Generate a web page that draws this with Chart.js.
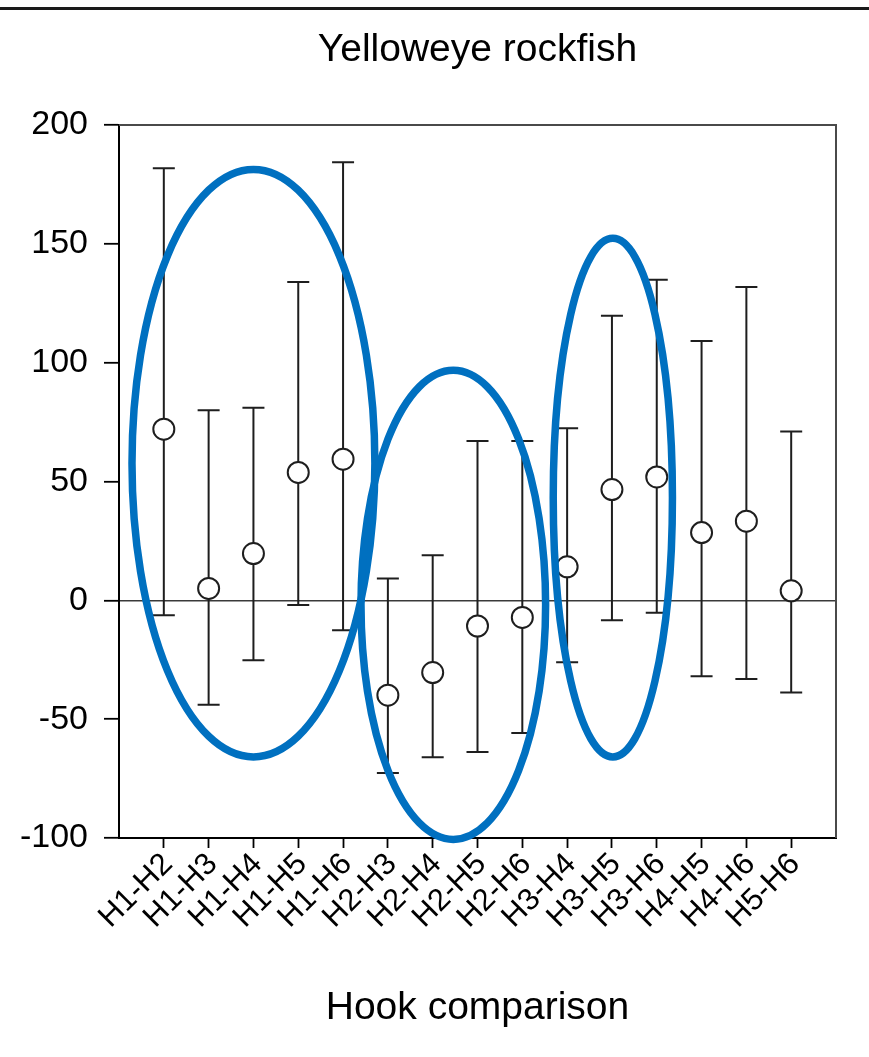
<!DOCTYPE html>
<html>
<head>
<meta charset="utf-8">
<script src="https://cdn.jsdelivr.net/npm/chart.js@4/dist/chart.umd.min.js"></script>
<style>
  html, body { margin: 0; padding: 0; background: #fff; }
  #wrap { position: relative; width: 869px; height: 1057px; }
  #topline { position: absolute; left: 0; top: 7px; width: 869px; height: 3px; background: #1a1a1a; }
  canvas { position: absolute; left: 0; top: 0; }
</style>
</head>
<body>
<div id="wrap">
  <canvas id="c" width="869" height="1057"></canvas>
  <div id="topline"></div>
</div>
<script>
// ---- Data ----
const categories = ['H1-H2','H1-H3','H1-H4','H1-H5','H1-H6','H2-H3','H2-H4','H2-H5','H2-H6','H3-H4','H3-H5','H3-H6','H4-H5','H4-H6','H5-H6'];
const meanValues  = [72.0, 5.0, 19.7, 53.8, 59.4, -39.9, -30.4, -10.8, -7.2, 14.1, 46.6, 51.9, 28.5, 33.3, 4.0];
const upperValues = [181.8, 80.0, 81.0, 133.9, 184.3, 9.2, 19.0, 67.0, 67.0, 72.4, 119.7, 134.9, 109.1, 131.8, 71.0];
const lowerValues = [-6.3, -43.9, -25.2, -2.0, -12.6, -72.6, -66.0, -63.8, -55.8, -26.1, -8.4, -5.2, -31.9, -33.1, -38.8];
const yTickValues = [-100, -50, 0, 50, 100, 150, 200];

// Highlight ellipses (data units: category position, value)
const ellipseCenterX = [3.0, 7.46, 11.02];
const ellipseCenterY = [57.7, -1.9, 43.2];
const ellipseRadiusX = [2.71, 2.06, 1.33];
const ellipseRadiusY = [123.6, 98.7, 109.1];

const FONT = "'Liberation Sans', Arial, Helvetica, sans-serif";

const points = categories.map((c, i) => ({ x: i + 1, y: meanValues[i] }));

const errorBarPlugin = {
  id: 'errorBars',
  beforeDatasetsDraw(chart) {
    const { ctx, scales: { x, y } } = chart;
    ctx.save();
    ctx.strokeStyle = '#1e1e1e';
    ctx.lineWidth = 2;
    const cap = 11;
    categories.forEach((c, i) => {
      const px = x.getPixelForValue(i + 1);
      const pu = y.getPixelForValue(upperValues[i]);
      const pl = y.getPixelForValue(lowerValues[i]);
      ctx.beginPath();
      ctx.moveTo(px, pu); ctx.lineTo(px, pl);
      ctx.moveTo(px - cap, pu); ctx.lineTo(px + cap, pu);
      ctx.moveTo(px - cap, pl); ctx.lineTo(px + cap, pl);
      ctx.stroke();
    });
    ctx.restore();
  }
};

const framePlugin = {
  id: 'frame',
  beforeDatasetsDraw(chart) {
    const { ctx, chartArea: a } = chart;
    ctx.save();
    ctx.strokeStyle = '#4a4a4a';
    ctx.lineWidth = 2;
    ctx.beginPath();
    ctx.moveTo(a.left, a.top); ctx.lineTo(a.right, a.top); ctx.lineTo(a.right, a.bottom);
    ctx.stroke();
    ctx.restore();
  }
};

const ellipsePlugin = {
  id: 'ellipses',
  afterDatasetsDraw(chart) {
    const { ctx, scales: { x, y } } = chart;
    ctx.save();
    ctx.strokeStyle = '#0070C0';
    ctx.lineWidth = 7.5;
    ellipseCenterX.forEach((cx, i) => {
      const pcx = x.getPixelForValue(cx);
      const pcy = y.getPixelForValue(ellipseCenterY[i]);
      const rx = Math.abs(x.getPixelForValue(cx + ellipseRadiusX[i]) - pcx);
      const ry = Math.abs(y.getPixelForValue(ellipseCenterY[i] + ellipseRadiusY[i]) - pcy);
      ctx.beginPath();
      ctx.ellipse(pcx, pcy, rx, ry, 0, 0, Math.PI * 2);
      ctx.stroke();
    });
    ctx.restore();
  }
};

new Chart(document.getElementById('c'), {
  type: 'scatter',
  data: {
    datasets: [{
      data: points,
      pointRadius: 10.5,
      pointHoverRadius: 10.5,
      pointBorderWidth: 2,
      pointBorderColor: '#1e1e1e',
      pointBackgroundColor: '#ffffff',
      showLine: false
    }]
  },
  options: {
    responsive: false,
    devicePixelRatio: 1,
    animation: false,
    layout: { padding: { left: 0, right: 33, top: 0, bottom: 0 } },
    plugins: {
      legend: { display: false },
      tooltip: { enabled: false },
      title: {
        display: true,
        fullSize: false,
        text: 'Yelloweye rockfish',
        color: '#000',
        font: { family: FONT, size: 39, weight: 'normal' },
        padding: { top: 27, bottom: 51.2 }
      }
    },
    scales: {
      x: {
        type: 'linear',
        min: 0,
        max: categories.length + 1,
        afterBuildTicks(scale) {
          scale.ticks = categories.map((c, i) => ({ value: i + 1 }));
        },
        afterFit(scale) { scale.height = 219; },
        ticks: {
          autoSkip: false,
          maxRotation: 45,
          minRotation: 45,
          padding: -2,
          labelOffset: 4,
          color: '#000',
          font: { family: FONT, size: 31 },
          callback: (v) => categories[v - 1] ?? ''
        },
        grid: { drawOnChartArea: false, tickLength: 10, tickColor: '#000', tickWidth: 1.8 },
        border: { color: '#000', width: 2 },
        title: {
          display: true,
          text: 'Hook comparison',
          color: '#000',
          font: { family: FONT, size: 39 },
          padding: { top: 0, bottom: 25 }
        }
      },
      y: {
        min: -100,
        max: 200,
        afterBuildTicks(scale) {
          scale.ticks = yTickValues.map(v => ({ value: v }));
        },
        afterFit(scale) { scale.width = 119; },
        ticks: {
          color: '#000',
          padding: 16,
          font: { family: FONT, size: 34 }
        },
        grid: {
          drawOnChartArea: true,
          color: (ctx) => (ctx.tick && ctx.tick.value === 0) ? '#3a3a3a' : 'rgba(0,0,0,0)',
          lineWidth: 1.6,
          tickLength: 15,
          tickColor: '#000',
          tickWidth: 1.8
        },
        border: { color: '#000', width: 2 }
      }
    }
  },
  plugins: [errorBarPlugin, framePlugin, ellipsePlugin]
});
</script>
</body>
</html>
